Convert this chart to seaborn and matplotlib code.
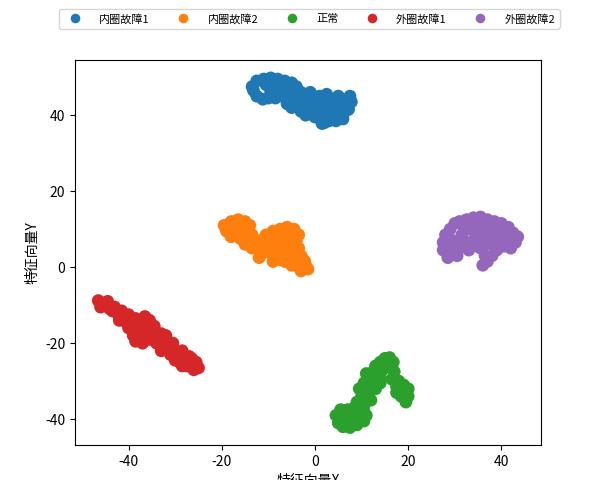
import matplotlib
matplotlib.use("Agg")
import matplotlib.pyplot as plt
import seaborn as sns
import pandas as pd

plt.rcParams['font.family'] = ['Noto Sans CJK SC', 'DejaVu Sans']
plt.rcParams['axes.unicode_minus'] = False

labels = ['内圈故障1', '内圈故障2', '正常', '外圈故障1', '外圈故障2']

# cluster points (t-SNE style feature map)
inner1_x = [-13.5, -12.5, -11, -9.5, -8, -6.5, -5, -4, -13.2, -12.5, -11.2, -10,
            -9.5, -8, -8.5, -7, -6, -5.5, -4, -3, -5, -3.5, -2, -1, 0, 1, -2, 0, 2, 3,
            2, 3.5, 4, 5, 6, 7.5, 7.8, 7.2, 5.5, 4.5, 6, 1, -1, -3, -4, 2.5, 2, 1.5,
            -10.5, -9, -7.5, -6.5, -4.5, -2.5, -1.5, 0.5, 1.5, 3, 4.5, 6.5, 5, 3,
            -0.5, -3, -6, -7.5, -1, 1, 4, 6]
inner1_y = [47.5, 49, 49.5, 49.8, 49.5, 49, 48.5, 47.5, 46.5, 45, 44.2, 44.5,
            46, 46.5, 44.5, 45, 46.5, 44, 45.5, 46, 42, 43, 42, 44, 43, 41.5, 40, 39.5, 39, 40.5,
            43, 42.5, 44, 45, 44, 45, 43.5, 41.5, 41, 38.5, 40, 45, 46, 41, 44, 45.5, 38, 37.8,
            48, 48, 48, 47.5, 46.5, 44.5, 42.5, 41, 40.5, 38.5, 42, 42.5, 43, 41.5,
            40.5, 44.5, 43, 47, 41.5, 43.5, 40, 39]

inner2_x = [-19.5, -18, -16.5, -15, -14, -19, -17.5, -16, -14.5, -18, -16, -14.5, -13,
            -15, -13.5, -12, -11, -10.5, -9, -7.5, -6, -4.5, -3.5, -10, -8, -6, -4, -9, -7,
            -5, -3.5, -10, -8.5, -7, -5.5, -4, -3, -6.5, -5, -3.5, -2, -1.5, -3, -2.2,
            -17, -15.5, -12.5, -11.5, -8.5, -5, -7.5, -6, -4.5, -2.5, -12, -9, -5.5, -4,
            -13.5, -11, -9.5, -7]
inner2_y = [11, 12, 12.5, 12, 11, 9.5, 9, 10, 9.5, 8, 7.5, 8, 7,
            6, 5, 4.5, 6, 8.5, 9.5, 10, 10.5, 10, 8.5, 7, 8, 8, 7, 6, 6,
            5.5, 5, 4, 3, 4, 3, 2, 3, 1.5, 0.5, 0, 0.5, -0.5, -1, 1.5,
            11, 10.8, 5.8, 3.5, 5, 9, 2, 6.5, 4, 2, 2.5, 1.5, 2, 1,
            8.5, 7.5, 7.5, 9]

normal_x = [4.5, 5, 6, 7.5, 9, 10.5, 11, 6.5, 8, 5.5, 7, 8.5, 9.5, 9, 10, 9.5, 10.5,
            11, 11.5, 12.5, 13, 14, 15, 16, 16.8, 12, 11.5, 13, 14, 17, 16.5, 18, 19,
            20, 20, 18.5, 19.5, 17.5, 13.5, 15.5, 10.5, 13, 14,
            6, 8, 9.5, 5.5, 7.5, 10.5, 12, 11, 13.5, 15, 14.5, 12.5, 17.5, 19]
normal_y = [-39, -41, -42, -42.2, -41.5, -40.5, -39, -39.5, -39, -37.5, -37.5, -37, -38.5,
            -35.5, -34, -32, -30.5, -32.5, -29, -27.5, -26, -25, -24, -23.8, -25, -31, -34,
            -30, -29, -27.5, -29.5, -30, -31, -32, -34, -34, -35.5, -33, -27.5, -26, -36.5,
            -32, -30.5,
            -40.5, -40.5, -40, -40, -38.5, -38, -35, -28, -26, -25, -27, -29, -31.5, -33]

outer1_x = [-46.5, -45.5, -44.5, -46, -44, -43, -42.5, -41.5, -41, -40, -39.5, -38.5,
            -38, -37, -36.5, -35.5, -36, -37.5, -39, -38.5, -37, -35.5, -34.5, -34, -33,
            -32, -31.5, -30.5, -30, -29.5, -28.5, -28, -27, -26.5, -25.5, -25, -27.5, -29,
            -26, -40, -42, -35, -33, -31, -30, -28.5,
            -45, -43.5, -42, -40.5, -39, -37.5, -36.5, -34.5, -33, -32, -30.5, -29, -27.5,
            -26.5, -38, -36, -34, -32.5]
outer1_y = [-8.8, -9.5, -9, -10.5, -11, -10.5, -12, -11.5, -13, -12.5, -14, -13.5,
            -15, -14, -13, -14, -16, -17, -18, -19.5, -20, -19, -17, -18.5, -20,
            -18, -21, -20, -22.5, -23.5, -22, -24.5, -23.5, -25.5, -25, -26.5, -26, -25,
            -27, -16, -14, -16, -22, -23, -24.5, -26,
            -10, -11.5, -13, -14.5, -16, -15.5, -15, -15.5, -17.5, -19.5, -21.5, -23, -25,
            -24, -17.5, -18, -20, -19]

outer2_x = [27.5, 27.5, 28, 29, 30, 31, 32.5, 34, 35.5, 37, 38.5, 40, 41.5, 42.5, 43.5,
            43, 42, 40.5, 39, 38, 37, 36, 36.5, 35.5, 29, 30.5, 31, 29.5, 31.5, 33, 34.5,
            36, 37.5, 39.5, 41, 32.5, 34, 35.5, 37.5, 39.5, 33, 28.5,
            29, 30.5, 32, 33.5, 35, 36.5, 38, 40, 41.5, 38.5, 40.5, 36.5, 34.5, 31]
outer2_y = [6.5, 4.5, 8.5, 10, 11.5, 12, 12.5, 13, 13.2, 12.5, 12, 11.5, 10.5, 9, 8,
            6.5, 5, 5.5, 4.5, 3, 1.5, 0.5, 3, 5, 4, 3, 5, 7, 8.5, 10, 11,
            10.5, 9.5, 9, 8, 6.5, 7, 8, 7, 7, 4.5, 2.5,
            5.5, 6.5, 10.5, 11.5, 11.5, 11.5, 10.5, 10, 9, 5.5, 6.5, 6, 9, 6.5]

xs = [inner1_x, inner2_x, normal_x, outer1_x, outer2_x]
ys = [inner1_y, inner2_y, normal_y, outer1_y, outer2_y]
frames = []
for lab, x, y in zip(labels, xs, ys):
    frames.append(pd.DataFrame({'x': x, 'y': y, 'label': lab}))
df = pd.concat(frames, ignore_index=True)

fig = plt.figure(figsize=(6, 4.8), dpi=100)
ax = fig.add_axes([0.125, 0.0729, 0.7767, 0.802])
sns.scatterplot(data=df, x='x', y='y', hue='label', hue_order=labels,
                palette='tab10', s=85, linewidth=0, ax=ax)
ax.set_xlim(-51.5, 48.5)
ax.set_ylim(-46.8, 54.5)
ax.set_xticks([-40, -20, 0, 20, 40])
ax.set_yticks([-40, -20, 0, 20, 40])
ax.set_xlabel('特征向量X', fontsize=10)
ax.set_ylabel('特征向量Y', fontsize=10)
ax.legend(loc='center', bbox_to_anchor=(0.503, 1.107), ncol=5, fontsize=8,
          columnspacing=2.0, handletextpad=1.2, markerscale=0.75)
fig.savefig('out.png', dpi=100)
